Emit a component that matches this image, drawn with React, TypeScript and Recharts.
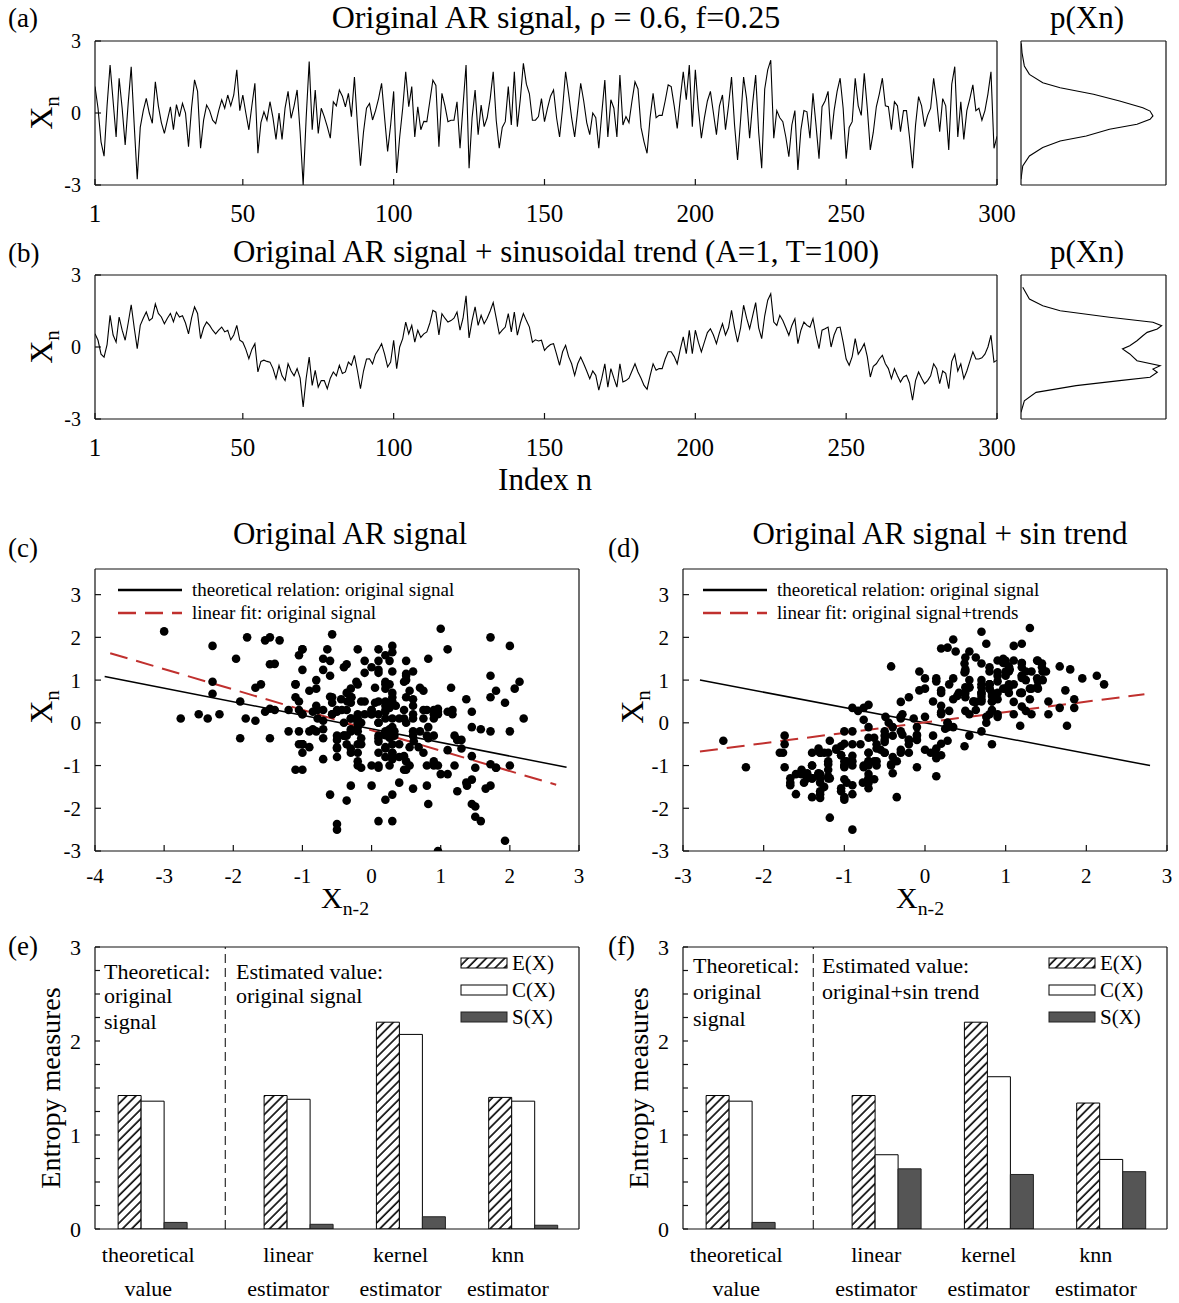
import React from 'react';
import {
  LineChart, Line, XAxis, YAxis, ScatterChart, Scatter, BarChart, Bar, ReferenceLine,
} from 'recharts';

const serif = '"Liberation Serif", "Times New Roman", serif';

// (a) original AR signal, n = 1..300
const arSignal = [
  1.1, 0.2, -1.2, -1.8, 0.3, 2.0, 0.5, -1.0, 1.45, 0.2,
  -1.33, 0.4, 1.93, -0.5, -2.76, -0.6, 0.1, 0.61, 0.0, -0.43,
  1.3, 0.3, -0.4, -0.85, -0.3, 0.26, -0.7, 0.35, -0.15, 0.4,
  0.0, -1.4, 0.2, 1.38, 0.9, -1.47, -0.3, 0.33, 0.1, -0.3,
  -0.44, 0.1, 0.55, 0.2, 0.75, 0.3, 0.75, 1.8, 0.1, 0.75,
  0.0, -0.7, 0.3, 1.24, -1.68, -0.4, 0.05, -0.3, 0.47, -0.2,
  -1.1, 0.0, -1.1, 0.2, 0.9, -0.22, 0.3, 0.96, -0.8, -3.0,
  -0.2, 2.14, -0.7, 0.96, -0.85, 0.2, -0.15, -0.57, -1.05, 0.47,
  0.3, 0.96, 0.7, 0.26, 0.82, -0.15, 1.5, -0.5, -2.2, -0.8,
  0.2, 0.4, -0.29, 0.1, 0.6, 1.24, -0.2, -1.6, -0.5, 0.9,
  -2.5, -1.0, 0.2, 1.72, 0.26, 1.1, -1.0, 0.26, -0.7, -0.35,
  -0.36, 0.5, 1.37, 1.15, -1.4, 0.82, 0.3, -0.36, -0.3, -0.3,
  0.47, -1.47, 0.3, 2.0, -2.3, -0.2, 0.96, -0.9, 0.33, -0.57,
  -0.2, 0.6, 1.72, -0.3, -1.47, -0.6, -0.36, 1.1, -0.5, 1.72,
  -0.57, 0.6, 2.07, 1.2, 0.8, -0.3, -0.3, -0.15, 0.6, -0.36,
  0.2, 0.7, 0.96, -0.2, -1.0, 0.2, 1.72, 0.8, -0.2, -1.0,
  0.1, 1.24, 0.5, -0.4, -0.9, 0.0, -0.2, -1.47, 0.0, 1.37,
  -1.0, 0.55, 0.2, -1.0, 1.58, -0.5, -0.15, -0.4, 0.5, 1.3,
  1.0, -0.6, -1.2, -1.68, -0.2, 0.82, -0.2, -0.1, -0.1, 0.5,
  1.17, 1.1, 0.3, -0.64, 0.6, 1.72, 0.55, 2.0, -0.57, 1.8,
  0.2, -1.05, -0.2, 0.5, 0.9, 0.0, -0.9, 0.3, 0.75, -0.7,
  0.3, 1.5, -0.5, -1.96, -0.3, 1.5, 0.6, -1.05, 0.4, 1.58,
  -0.8, -2.3, 1.0, 1.8, 2.2, -1.05, 0.1, -0.2, -0.36, -1.0,
  -1.82, -0.5, 0.1, -2.37, -0.7, 0.1, 0.05, -1.05, 0.82, -0.5,
  -1.9, 0.26, 0.5, 0.9, -1.1, 0.1, 0.9, 1.45, 0.2, -1.9,
  -0.6, -0.36, 1.45, 0.3, -0.1, 1.65, 0.2, -1.54, -0.8, 0.26,
  0.8, 1.45, 0.3, 0.26, -0.7, 0.47, 0.3, -0.78, 0.1, 0.1,
  -1.0, -2.3, -0.5, 0.68, 0.3, -0.57, -0.1, 0.2, 1.45, 0.5,
  -0.78, 0.6, 0.3, -1.54, 1.2, 1.93, -1.0, 0.47, -1.1, 0.1,
  0.6, 1.17, 0.1, 0.2, -0.3, 0.1, 0.8, 1.72, -1.47, -0.97,
];

// (b) AR signal + sinusoidal trend, n = 1..300
const trendSignal = [
  0.55, 0.28, -0.3, -0.42, 0.1, 1.32, 0.5, 0.2, 1.25, 0.7,
  0.28, 1.0, 1.76, 0.8, -0.07, 0.9, 1.2, 1.46, 1.1, 1.2,
  1.8, 1.4, 1.25, 0.97, 1.2, 1.4, 1.05, 1.45, 1.25, 1.3,
  1.0, 0.55, 1.2, 1.67, 1.4, 0.35, 0.8, 1.04, 0.9, 0.7,
  0.55, 0.7, 0.83, 0.63, 0.7, 0.3, 0.5, 0.9, 0.28, 0.2,
  -0.1, -0.49, -0.1, 0.14, -1.04, -0.6, -0.55, -0.6, -0.63, -0.9,
  -1.32, -0.77, -1.2, -1.4, -0.7, -1.0, -1.2, -0.9, -1.3, -2.5,
  -1.3, -0.42, -1.6, -0.97, -1.67, -1.4, -1.4, -1.74, -1.3, -1.04,
  -1.2, -0.76, -1.1, -1.04, -0.63, -0.76, -0.35, -1.0, -1.74, -1.0,
  -0.5, -0.49, -0.7, -0.3, -0.1, 0.14, -0.3, -0.83, -0.63, 0.28,
  -0.9, 0.0, 0.35, 1.04, 0.55, 0.9, 0.2, 0.7, 0.4, 0.55,
  0.63, 1.0, 1.53, 1.45, 0.5, 1.39, 1.2, 1.04, 1.1, 1.2,
  1.46, 0.7, 1.2, 2.13, 0.38, 1.1, 1.67, 0.9, 1.32, 0.97,
  1.2, 1.5, 1.85, 1.2, 0.55, 0.7, 0.83, 1.39, 0.63, 1.46,
  0.49, 1.0, 1.39, 1.1, 0.83, 0.2, 0.3, 0.25, 0.28, -0.14,
  0.0, 0.1, 0.14, -0.3, -0.76, -0.2, 0.07, -0.4, -0.7, -1.18,
  -0.7, -0.42, -0.7, -1.0, -1.32, -1.0, -1.18, -1.8, -1.3, -0.7,
  -1.67, -0.9, -1.3, -1.67, -0.7, -1.46, -1.4, -1.3, -1.0, -0.7,
  -1.04, -1.3, -1.6, -1.76, -1.2, -0.7, -0.97, -0.9, -0.9, -0.5,
  -0.2, -0.2, -0.4, -0.7, -0.1, 0.42, -0.28, 0.7, -0.28, 0.7,
  0.2, -0.2, 0.2, 0.6, 0.76, 0.5, 0.14, 0.6, 0.97, 0.5,
  0.8, 1.53, 0.8, 0.2, 0.8, 1.74, 1.2, 0.76, 1.3, 1.85,
  0.8, 0.35, 1.3, 1.95, 2.22, 1.04, 0.9, 1.32, 1.1, 0.8,
  0.49, 0.9, 1.18, 0.14, 0.7, 1.04, 0.9, 0.83, 1.18, 0.5,
  -0.07, 0.7, 0.76, 0.83, 0.0, 0.5, 0.8, 0.83, 0.2, -0.5,
  -0.76, -0.4, 0.35, -0.3, -0.1, 0.14, -0.4, -1.25, -0.8, -0.7,
  -0.5, -0.35, -0.7, -0.9, -1.32, -0.9, -1.2, -1.46, -1.25, -1.18,
  -1.5, -2.22, -1.4, -1.04, -1.3, -1.53, -1.4, -1.2, -0.7, -0.9,
  -1.53, -1.0, -1.1, -1.74, -0.6, -0.3, -1.0, -0.7, -1.32, -1.0,
  -0.6, -0.2, -0.5, -0.5, -0.45, -0.3, 0.0, 0.49, -0.63, -0.55,
];
const indexTicks = [1, 50, 100, 150, 200, 250, 300];

// p(Xn) side panels: level of Xn and (relative) density
const pdfLevelsA = [2.76, 2.21, 1.79, 1.44, 1.17, 0.96, 0.68, 0.47, 0.26, 0.12, -0.08, -0.22, -0.5, -0.78, -1.05, -1.26, -1.61, -1.96, -2.51, -2.9];
const pdfValuesA = [0, 0.012, 0.058, 0.15, 0.27, 0.45, 0.61, 0.8, 0.89, 0.91, 0.89, 0.84, 0.68, 0.5, 0.27, 0.15, 0.058, 0.023, 0.007, 0.002];
const pdfLevelsB = [2.72, 2.24, 1.89, 1.61, 1.4, 1.26, 1.05, 0.92, 0.78, 0.57, 0.29, 0.08, -0.05, -0.26, -0.47, -0.61, -0.75, -0.89, -1.03, -1.24, -1.51, -1.72, -2.0, -2.49];
const pdfValuesB = [0, 0.023, 0.104, 0.38, 0.68, 0.89, 0.94, 0.91, 0.96, 0.8, 0.75, 0.7, 0.75, 0.8, 0.84, 0.87, 0.94, 0.97, 0.91, 0.61, 0.27, 0.15, 0.058, 0.012];

// (c), (d) relation lines (end points)
const theoryLineC = [{ x: -3.86, y: 1.085 }, { x: 2.82, y: -1.04 }];
const fitLineC = [{ x: -3.78, y: 1.63 }, { x: 2.67, y: -1.45 }];
const theoryLineD = [{ x: -2.79, y: 1.0 }, { x: 2.79, y: -1.0 }];
const fitLineD = [{ x: -2.79, y: -0.67 }, { x: 2.72, y: 0.67 }];

// (e), (f) entropy measures
const estimators = ['theoretical', 'linear', 'kernel', 'knn'];
const estimatorSub = ['value', 'estimator', 'estimator', 'estimator'];
const groupPos = [0.51, 1.81, 2.81, 3.81];
const entE1 = [1.42, 1.42, 2.2, 1.4];
const entC1 = [1.36, 1.38, 2.07, 1.36];
const entS1 = [0.07, 0.05, 0.13, 0.04];
const entE2 = [1.42, 1.42, 2.2, 1.34];
const entC2 = [1.36, 0.79, 1.62, 0.74];
const entS2 = [0.07, 0.64, 0.58, 0.61];

// horizontal nudge of each category label (px)
const labelShift = [-4, -10, -10, -15];

const zero = { top: 0, right: 0, bottom: 0, left: 0 };
const line = { stroke: '#111', strokeWidth: 1.2 };
const font = (size: number) => ({ fill: '#000', fontSize: size, fontFamily: serif });

type Box = { l: number; t: number; w: number; h: number };
type Pad = { ml: number; mt: number; mr: number; mb: number };

const place = (b: Box, p: Pad): React.CSSProperties => ({
  position: 'absolute', left: b.l - p.ml, top: b.t - p.mt,
});
const size = (b: Box, p: Pad) => ({ width: b.w + p.ml + p.mr, height: b.h + p.mt + p.mb });

function frameAxes(xDom: number[], yDom: number[], p: Pad, xTicks?: number[], yTicks?: number[], len = 6) {
  return [
    <XAxis key="ft" xAxisId="top" orientation="top" type="number" domain={xDom} allowDataOverflow
      height={p.mt} ticks={xTicks} interval={0} tick={false} tickSize={-len}
      tickLine={xTicks ? line : false} axisLine={line} />,
    <YAxis key="fr" yAxisId="right" orientation="right" type="number" domain={yDom} allowDataOverflow
      width={p.mr} ticks={yTicks} interval={0} tick={false} tickSize={-len}
      tickLine={yTicks ? line : false} axisLine={line} />,
  ];
}

function TimeSeries({ values, top }: { values: number[]; top: number }) {
  const box = { l: 95, t: top, w: 902, h: 144 };
  const pad = { ml: 95, mt: 10, mr: 30, mb: 50 };
  const data = values.map((v, i) => ({ n: i + 1, v }));
  return (
    <div style={place(box, pad)}>
      <LineChart {...size(box, pad)} data={data} margin={zero}>
        <XAxis type="number" dataKey="n" domain={[1, 300]} allowDataOverflow ticks={indexTicks} interval={0}
          height={pad.mb} tickSize={-6} tickMargin={25} axisLine={line} tickLine={line} tick={font(25)} />
        <YAxis type="number" domain={[-3, 3]} allowDataOverflow ticks={[-3, 0, 3]} interval={0}
          width={pad.ml} tickSize={-6} tickMargin={20} axisLine={line} tickLine={line} tick={font(20)} />
        {frameAxes([1, 300], [-3, 3], pad)}
        <Line dataKey="v" stroke="#000" strokeWidth={1.1} dot={false} isAnimationActive={false} />
      </LineChart>
    </div>
  );
}

function Density({ levels, values, top }: { levels: number[]; values: number[]; top: number }) {
  const box = { l: 1021, t: top, w: 145, h: 144 };
  const pad = { ml: 5, mt: 5, mr: 5, mb: 5 };
  const data = levels.map((v, i) => ({ v, p: values[i] }));
  return (
    <div style={place(box, pad)}>
      <LineChart layout="vertical" {...size(box, pad)} data={data} margin={zero}>
        <XAxis type="number" dataKey="p" domain={[0, 1]} allowDataOverflow height={pad.mb}
          tick={false} tickLine={false} axisLine={line} />
        <YAxis type="number" dataKey="v" domain={[-3, 3]} allowDataOverflow ticks={[0]} width={pad.ml}
          tick={false} tickSize={-6} tickLine={line} axisLine={line} />
        {frameAxes([0, 1], [-3, 3], pad)}
        <Line dataKey="p" stroke="#000" strokeWidth={1.1} dot={false} isAnimationActive={false} />
      </LineChart>
    </div>
  );
}

const dot = (p: any) => <circle cx={p.cx} cy={p.cy} r={4.3} fill="#000" />;

function LagScatter({ series, left, xDom, xTicks, theory, fit }: any) {
  const box = { l: left, t: 569, w: 484, h: 282 };
  const pad = { ml: 95, mt: 10, mr: 10, mb: 40 };
  const yTicks = [-3, -2, -1, 0, 1, 2, 3];
  const pts = series.slice(2).map((v: number, i: number) => ({ x: series[i], y: v }));
  return (
    <div style={place(box, pad)}>
      <ScatterChart {...size(box, pad)} margin={zero}>
        <XAxis type="number" dataKey="x" domain={xDom} allowDataOverflow ticks={xTicks} interval={0}
          height={pad.mb} tickSize={-6} tickMargin={23} axisLine={line} tickLine={line} tick={font(21)} />
        <YAxis type="number" dataKey="y" domain={[-3, 3.6]} allowDataOverflow ticks={yTicks} interval={0}
          width={pad.ml} tickSize={-6} tickMargin={20} axisLine={line} tickLine={line} tick={font(21)} />
        {frameAxes(xDom, [-3, 3.6], pad, xTicks, yTicks)}
        <Scatter data={pts} shape={dot} isAnimationActive={false} />
        <ReferenceLine segment={theory} stroke="#000" strokeWidth={1.5} />
        <ReferenceLine segment={fit} stroke="#c0302e" strokeWidth={2} strokeDasharray="18 9" />
      </ScatterChart>
    </div>
  );
}

const hatch = (id: string) => (
  <pattern id={id} patternUnits="userSpaceOnUse" width={6.5} height={6.5} patternTransform="rotate(45)">
    <rect width={6.5} height={6.5} fill="#fff" />
    <line x1={1} y1={0} x2={1} y2={6.5} stroke="#000" strokeWidth={1.6} />
  </pattern>
);

const CatTick = (p: any) => {
  const i = groupPos.indexOf(p.payload.value);
  const x = p.x + (labelShift[i] || 0);
  return (
    <text x={x} y={p.y} textAnchor="middle" fontFamily={serif} fontSize={22} fill="#000">
      <tspan x={x} dy={33}>{estimators[i]}</tspan>
      <tspan x={x} dy={34}>{estimatorSub[i]}</tspan>
    </text>
  );
};

function Entropy({ left, e, c, s, id }: any) {
  const box = { l: left, t: 947, w: 484, h: 282 };
  const pad = { ml: 95, mt: 20, mr: 10, mb: 75 };
  const yTicks = [0, 0.25, 0.5, 0.75, 1, 1.25, 1.5, 1.75, 2, 2.25, 2.5, 2.75, 3];
  const rows = groupPos.map((pos, i) => ({ pos, e: e[i], c: c[i], s: s[i] }));
  return (
    <div style={place(box, pad)}>
      <BarChart {...size(box, pad)} data={rows} margin={zero} barGap={0}>
        <defs>{hatch(id)}</defs>
        <XAxis type="number" dataKey="pos" domain={[0, 4.31]} allowDataOverflow ticks={groupPos} interval={0}
          height={pad.mb} tickSize={0} tickMargin={0} tickLine={false} axisLine={line} tick={<CatTick />} />
        <YAxis type="number" domain={[0, 3]} allowDataOverflow ticks={yTicks} interval={0}
          tickFormatter={(v: number) => (Number.isInteger(v) ? String(v) : '')}
          width={pad.ml} tickSize={-5} tickMargin={19} axisLine={line} tickLine={line} tick={font(22)} />
        {frameAxes([0, 4.31], [0, 3], pad, undefined, yTicks, 5)}
        <ReferenceLine x={1.16} stroke="#000" strokeWidth={1} strokeDasharray="9 5" />
        <Bar dataKey="e" barSize={23} fill={`url(#${id})`} stroke="#000" strokeWidth={1} isAnimationActive={false} />
        <Bar dataKey="c" barSize={23} fill="#fff" stroke="#000" strokeWidth={1} isAnimationActive={false} />
        <Bar dataKey="s" barSize={23} fill="#555" stroke="#222" strokeWidth={1} isAnimationActive={false} />
      </BarChart>
    </div>
  );
}

const Sub = ({ x, y, main, sub, rot, fs = 32 }: any) => (
  <text transform={`translate(${x},${y})${rot ? ' rotate(-90)' : ''}`} textAnchor="middle" fontSize={fs}>
    {main}
    <tspan fontSize={fs * 0.66} dy={fs * 0.22}>{sub}</tspan>
  </text>
);

const BarLegend = ({ x, y }: { x: number; y: number }) => (
  <g fontSize={21}>
    <rect x={x} y={y - 5} width={46} height={10} fill="url(#hatch-legend)" stroke="#000" />
    <text x={x + 51} y={y + 7}>E(X)</text>
    <rect x={x} y={y + 22} width={46} height={10} fill="#fff" stroke="#000" />
    <text x={x + 51} y={y + 34}>C(X)</text>
    <rect x={x} y={y + 49} width={46} height={10} fill="#555" stroke="#222" />
    <text x={x + 51} y={y + 61}>S(X)</text>
  </g>
);

const LineLegend = ({ x, fitLabel }: { x: number; fitLabel: string }) => (
  <g fontSize={19}>
    <line x1={x} y1={590} x2={x + 64} y2={590} stroke="#000" strokeWidth={2.5} />
    <text x={x + 74} y={596}>theoretical relation: original signal</text>
    <line x1={x} y1={613} x2={x + 64} y2={613} stroke="#c0302e" strokeWidth={2.5} strokeDasharray="18 9" />
    <text x={x + 74} y={619}>{fitLabel}</text>
  </g>
);

function Overlay() {
  return (
    <svg width={1179} height={1303} fontFamily={serif} fill="#000"
      style={{ position: 'absolute', left: 0, top: 0, pointerEvents: 'none' }}>
      <defs>{hatch('hatch-legend')}</defs>
      <text x={8} y={27} fontSize={27}>(a)</text>
      <text x={556} y={28} fontSize={32} textAnchor="middle">Original AR signal, ρ = 0.6, f=0.25</text>
      <text x={1087} y={28} fontSize={31} textAnchor="middle">p(Xn)</text>
      <Sub x={52} y={113} main="X" sub="n" rot />
      <text x={8} y={262} fontSize={27}>(b)</text>
      <text x={556} y={262} fontSize={31} textAnchor="middle">Original AR signal + sinusoidal trend (A=1, T=100)</text>
      <text x={1087} y={262} fontSize={31} textAnchor="middle">p(Xn)</text>
      <Sub x={52} y={347} main="X" sub="n" rot />
      <text x={545} y={490} fontSize={31} textAnchor="middle">Index n</text>

      <text x={8} y={557} fontSize={27}>(c)</text>
      <text x={350} y={544} fontSize={31} textAnchor="middle">Original AR signal</text>
      <Sub x={52} y={707} main="X" sub="n" rot />
      <Sub x={345} y={908} main="X" sub="n-2" fs={30} />
      <LineLegend x={118} fitLabel="linear fit: original signal" />
      <text x={608} y={557} fontSize={27}>(d)</text>
      <text x={940} y={544} fontSize={31} textAnchor="middle">Original AR signal + sin trend</text>
      <Sub x={643} y={707} main="X" sub="n" rot />
      <Sub x={920} y={908} main="X" sub="n-2" fs={30} />
      <LineLegend x={703} fitLabel="linear fit: original signal+trends" />

      <text x={8} y={955} fontSize={27}>(e)</text>
      <text transform="translate(60,1088) rotate(-90)" textAnchor="middle" fontSize={28}>Entropy measures</text>
      <g fontSize={22}>
        <text x={104} y={979}>Theoretical:</text>
        <text x={104} y={1003}>original</text>
        <text x={104} y={1029}>signal</text>
        <text x={236} y={979}>Estimated value:</text>
        <text x={236} y={1003}>original signal</text>
      </g>
      <BarLegend x={461} y={963} />
      <text x={608} y={955} fontSize={27}>(f)</text>
      <text transform="translate(648,1088) rotate(-90)" textAnchor="middle" fontSize={28}>Entropy measures</text>
      <g fontSize={22}>
        <text x={693} y={973}>Theoretical:</text>
        <text x={693} y={999}>original</text>
        <text x={693} y={1026}>signal</text>
        <text x={822} y={973}>Estimated value:</text>
        <text x={822} y={999}>original+sin trend</text>
      </g>
      <BarLegend x={1049} y={963} />
    </svg>
  );
}

export default function App() {
  return (
    <div style={{ position: 'absolute', left: 0, top: 0, width: 1179, height: 1303, background: '#fff' }}>
      <TimeSeries values={arSignal} top={41} />
      <Density levels={pdfLevelsA} values={pdfValuesA} top={41} />
      <TimeSeries values={trendSignal} top={275} />
      <Density levels={pdfLevelsB} values={pdfValuesB} top={275} />
      <LagScatter series={arSignal} left={95} xDom={[-4, 3]} xTicks={[-4, -3, -2, -1, 0, 1, 2, 3]}
        theory={theoryLineC} fit={fitLineC} />
      <LagScatter series={trendSignal} left={683} xDom={[-3, 3]} xTicks={[-3, -2, -1, 0, 1, 2, 3]}
        theory={theoryLineD} fit={fitLineD} />
      <Entropy left={95} e={entE1} c={entC1} s={entS1} id="hatch-e" />
      <Entropy left={683} e={entE2} c={entC2} s={entS2} id="hatch-f" />
      <Overlay />
    </div>
  );
}
